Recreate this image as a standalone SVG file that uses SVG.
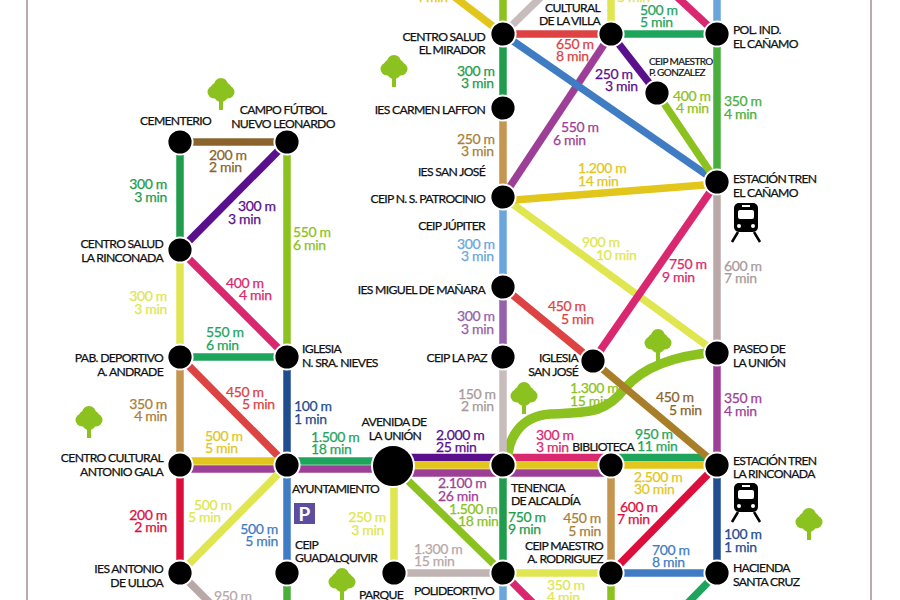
<svg xmlns="http://www.w3.org/2000/svg" width="900" height="600" viewBox="0 0 900 600">
<style>
text{font-family:Lato,"Liberation Sans",Arial,sans-serif}
.l{font-size:12.2px;letter-spacing:-.7px;fill:#111;stroke:#111;stroke-width:.25}
.s{font-size:10px;letter-spacing:-.6px;fill:#111;stroke:#111;stroke-width:.2}
.e{text-anchor:end}
.m{font-size:14px;letter-spacing:-.35px;stroke-width:.25}
.c line,.c path{stroke-width:7.5;fill:none}
.n{fill:#000;stroke:#fff;stroke-width:2}
.t{fill:#8cc220}
</style>
<defs>
<g id="tree"><rect x="-2" y="4" width="4" height="12" class="t"/><circle cx="0" cy="-9" r="7" class="t"/><circle cx="-7" cy="-2" r="6.5" class="t"/><circle cx="7" cy="-2" r="6.5" class="t"/><circle cx="0" cy="1" r="7" class="t"/><circle cx="-5" cy="-6" r="5" class="t"/><circle cx="5" cy="-6" r="5" class="t"/></g>
<g id="train"><rect x="-12" y="-18" width="24" height="29" rx="5" fill="#000"/><rect x="-8" y="-11" width="16" height="9" rx="2" fill="#fff"/><rect x="-4" y="-16" width="8" height="2" fill="#fff"/><circle cx="-7" cy="5" r="2" fill="#fff"/><circle cx="7" cy="5" r="2" fill="#fff"/><path d="M-8 11L-14 21M8 11L14 21" stroke="#000" stroke-width="2.5" fill="none"/></g>
</defs>
<rect x="26" y="0" width="2" height="600" fill="#bba9ac"/>
<rect x="870" y="0" width="2" height="600" fill="#bba9ac"/>
<g class="c">
<line x1="180" y1="142" x2="287" y2="142" stroke="#8a642c"/>
<line x1="180" y1="142" x2="180" y2="250" stroke="#1f9c4c"/>
<line x1="180" y1="250" x2="287" y2="142" stroke="#5a0f8c"/>
<line x1="287" y1="142" x2="287" y2="357" stroke="#8cc220"/>
<line x1="180" y1="250" x2="180" y2="357" stroke="#dfe650"/>
<line x1="180" y1="250" x2="287" y2="357" stroke="#d9286f"/>
<line x1="180" y1="357" x2="287" y2="357" stroke="#1fa45c"/>
<line x1="180" y1="357" x2="180" y2="465" stroke="#c4964f"/>
<line x1="180" y1="357" x2="287" y2="465" stroke="#dd4343"/>
<line x1="287" y1="357" x2="287" y2="465" stroke="#1f4d90"/>
<line x1="180" y1="461" x2="287" y2="461" stroke="#e2c61c"/>
<line x1="180" y1="469" x2="287" y2="469" stroke="#9e3f97"/>
<line x1="180" y1="465" x2="180" y2="573" stroke="#dc0f3c"/>
<line x1="180" y1="573" x2="287" y2="465" stroke="#dfe650"/>
<line x1="180" y1="573" x2="246" y2="639" stroke="#b8a8a8"/>
<line x1="287" y1="465" x2="287" y2="573" stroke="#3f7cc4"/>
<line x1="287" y1="573" x2="287" y2="610" stroke="#4aae3c"/>
<line x1="287" y1="461" x2="393" y2="461" stroke="#1fa45c"/>
<line x1="287" y1="469" x2="393" y2="469" stroke="#9e3f97"/>
<line x1="393" y1="457.5" x2="503" y2="457.5" stroke="#5a0f8c"/>
<line x1="393" y1="465" x2="503" y2="465" stroke="#e2c61c"/>
<line x1="393" y1="473" x2="503" y2="473" stroke="#9e3f97"/>
<line x1="503" y1="457.5" x2="611" y2="457.5" stroke="#d9286f"/>
<line x1="503" y1="465" x2="611" y2="465" stroke="#e2c61c"/>
<line x1="503" y1="473" x2="611" y2="473" stroke="#9e3f97"/>
<line x1="611" y1="457.5" x2="717" y2="457.5" stroke="#1fa45c"/>
<line x1="611" y1="465" x2="717" y2="465" stroke="#e2c61c"/>
<line x1="394" y1="466" x2="394" y2="573" stroke="#dfe650"/>
<line x1="393" y1="466" x2="503" y2="573" stroke="#8cc220"/>
<line x1="394" y1="573" x2="503" y2="573" stroke="#bfb3b3"/>
<line x1="503" y1="465" x2="503" y2="573" stroke="#1f9c4c"/>
<line x1="503" y1="573" x2="611" y2="573" stroke="#dfe650"/>
<line x1="503" y1="573" x2="541" y2="611" stroke="#d9286f"/>
<line x1="503" y1="573" x2="503" y2="610" stroke="#6aa6dc"/>
<line x1="611" y1="465" x2="611" y2="573" stroke="#c4964f"/>
<line x1="611" y1="573" x2="717" y2="465" stroke="#dc0f3c"/>
<line x1="611" y1="573" x2="717" y2="573" stroke="#3f7cc4"/>
<line x1="611" y1="573" x2="611" y2="610" stroke="#8cc220"/>
<line x1="717" y1="465" x2="717" y2="573" stroke="#1f4d90"/>
<line x1="717" y1="573" x2="680" y2="611" stroke="#1fa45c"/>
<line x1="717" y1="353" x2="717" y2="465" stroke="#9e3f97"/>
<path d="M508 465C506 440 520 416 550 414C585 412 605 415 625 388C645 365 680 355 717 352" stroke="#8cc220" style="stroke-width:9.5"/>
<line x1="593" y1="361" x2="717" y2="465" stroke="#a87f28"/>
<line x1="503" y1="357" x2="503" y2="465" stroke="#c8bcbc"/>
<line x1="503" y1="287" x2="503" y2="357" stroke="#9560ac"/>
<line x1="503" y1="287" x2="593" y2="361" stroke="#dd4343"/>
<line x1="503" y1="197" x2="717" y2="353" stroke="#dfe650"/>
<line x1="593" y1="361" x2="717" y2="182" stroke="#d9286f"/>
<line x1="717" y1="182" x2="717" y2="353" stroke="#b8a8a8"/>
<line x1="503" y1="197" x2="503" y2="287" stroke="#6aa6dc"/>
<line x1="503" y1="201" x2="717" y2="184" stroke="#e2c61c"/>
<line x1="503" y1="108" x2="503" y2="197" stroke="#c4964f"/>
<line x1="503" y1="197" x2="611" y2="34" stroke="#9e3f97"/>
<line x1="503" y1="34" x2="503" y2="108" stroke="#1f9c4c"/>
<line x1="503" y1="34" x2="611" y2="34" stroke="#dd4343"/>
<line x1="503" y1="34" x2="717" y2="182" stroke="#3f7cc4"/>
<line x1="611" y1="34" x2="717" y2="34" stroke="#1fa45c"/>
<line x1="611" y1="34" x2="657" y2="93" stroke="#5a0f8c"/>
<line x1="657" y1="93" x2="717" y2="182" stroke="#8cc220"/>
<line x1="717" y1="34" x2="717" y2="182" stroke="#4aae3c"/>
<line x1="503" y1="34" x2="503" y2="-5" stroke="#8cc220"/>
<line x1="503" y1="34" x2="452" y2="-5" stroke="#e2c61c"/>
<line x1="503" y1="34" x2="543" y2="-5" stroke="#c8bcbc"/>
<line x1="611" y1="34" x2="611" y2="-5" stroke="#dfe650"/>
<line x1="717" y1="34" x2="675" y2="-5" stroke="#d9286f"/>
<line x1="717" y1="34" x2="717" y2="-5" stroke="#6aa6dc"/>
</g>
<use href="#tree" x="221" y="94"/><use href="#tree" x="394" y="71"/><use href="#tree" x="89" y="422"/><use href="#tree" x="524" y="398"/><use href="#tree" x="658" y="345"/><use href="#tree" x="809" y="524"/><use href="#tree" x="342" y="584"/>
<use href="#train" x="746" y="221"/><use href="#train" x="746" y="501"/>
<rect x="294" y="503" width="21" height="21" fill="#5c4da0"/>
<text x="304.500" y="521" font-size="19" font-weight="bold" fill="#fff" text-anchor="middle">P</text>
<g id="n-cementerio"><circle class="n" cx="180" cy="142" r="12.600"/><text class="l e" x="211" y="125">CEMENTERIO</text></g>
<g id="n-campo"><circle class="n" cx="287" cy="142" r="12.600"/><text class="l" x="283" y="114" text-anchor="middle">CAMPO FÚTBOL</text><text class="l" x="283" y="128" text-anchor="middle">NUEVO LEONARDO</text></g>
<g id="n-csr"><circle class="n" cx="180" cy="250" r="12.600"/><text class="l e" x="163" y="248">CENTRO SALUD</text><text class="l e" x="163" y="262">LA RINCONADA</text></g>
<g id="n-pab"><circle class="n" cx="180" cy="357" r="12.600"/><text class="l e" x="163" y="362">PAB. DEPORTIVO</text><text class="l e" x="163" y="376">A. ANDRADE</text></g>
<g id="n-iglesia"><circle class="n" cx="287" cy="357" r="12.600"/><text class="l" x="302" y="353">IGLESIA</text><text class="l" x="302" y="367">N. SRA. NIEVES</text></g>
<g id="n-ccag"><circle class="n" cx="180" cy="465" r="12.600"/><text class="l e" x="163" y="462">CENTRO CULTURAL</text><text class="l e" x="163" y="476">ANTONIO GALA</text></g>
<g id="n-ayto"><circle class="n" cx="287" cy="465" r="12.600"/><text class="l" x="292" y="493">AYUNTAMIENTO</text></g>
<g id="n-ulloa"><circle class="n" cx="180" cy="573" r="12.600"/><text class="l e" x="163" y="573">IES ANTONIO</text><text class="l e" x="163" y="587">DE ULLOA</text></g>
<g id="n-guad"><circle class="n" cx="287" cy="573" r="12.600"/><text class="l" x="295" y="549">CEIP</text><text class="l" x="295" y="562">GUADALQUIVIR</text></g>
<g id="n-avda"><circle class="n" cx="393" cy="466" r="21"/><text class="l" x="394" y="426" text-anchor="middle">AVENIDA DE</text><text class="l" x="395" y="440" text-anchor="middle">LA UNIÓN</text></g>
<g id="n-parque"><circle class="n" cx="394" cy="573" r="12.600"/><text class="l" x="359" y="599">PARQUE</text></g>
<g id="n-tenencia"><circle class="n" cx="503" cy="465" r="12.600"/><text class="l" x="511" y="492">TENENCIA</text><text class="l" x="511" y="505">DE ALCALDÍA</text></g>
<g id="n-biblio"><circle class="n" cx="611" cy="465" r="12.600"/><text class="l e" x="634" y="451">BIBLIOTECA</text></g>
<g id="n-poli"><circle class="n" cx="503" cy="573" r="12.600"/><text class="l e" x="494" y="595">POLIDEORTIVO</text><text class="l e" x="494" y="608">CASTAÑITA</text></g>
<g id="n-rodriguez"><circle class="n" cx="611" cy="573" r="12.600"/><text class="l e" x="603" y="550">CEIP MAESTRO</text><text class="l e" x="603" y="563">A. RODRIGUEZ</text></g>
<g id="n-hacienda"><circle class="n" cx="717" cy="573" r="12.600"/><text class="l" x="733" y="572">HACIENDA</text><text class="l" x="733" y="586">SANTA CRUZ</text></g>
<g id="n-estrinc"><circle class="n" cx="717" cy="465" r="12.600"/><text class="l" x="733" y="465">ESTACIÓN TREN</text><text class="l" x="733" y="478">LA RINCONADA</text></g>
<g id="n-paseo"><circle class="n" cx="717" cy="353" r="12.600"/><text class="l" x="733" y="353">PASEO DE</text><text class="l" x="733" y="367">LA UNIÓN</text></g>
<g id="n-sanjose"><circle class="n" cx="593" cy="361" r="12.600"/><text class="l e" x="578" y="362">IGLESIA</text><text class="l e" x="578" y="376">SAN JOSÉ</text></g>
<g id="n-lapaz"><circle class="n" cx="503" cy="357" r="12.600"/><text class="l e" x="487" y="362">CEIP LA PAZ</text></g>
<g id="n-manara"><circle class="n" cx="503" cy="287" r="12.600"/><text class="l e" x="485" y="294">IES MIGUEL DE MAÑARA</text></g>
<g id="n-jupiter"><text class="l e" x="485" y="230">CEIP JÚPITER</text></g>
<g id="n-patrocinio"><circle class="n" cx="503" cy="197" r="12.600"/><text class="l e" x="485" y="203">CEIP N. S. PATROCINIO</text></g>
<g id="n-sanjoseies"><text class="l e" x="485" y="176">IES SAN JOSÉ</text></g>
<g id="n-laffon"><circle class="n" cx="503" cy="108" r="12.600"/><text class="l e" x="485" y="114">IES CARMEN LAFFON</text></g>
<g id="n-mirador"><circle class="n" cx="503" cy="34" r="12.600"/><text class="l e" x="485" y="41">CENTRO SALUD</text><text class="l e" x="485" y="54">EL MIRADOR</text></g>
<g id="n-villa"><circle class="n" cx="611" cy="34" r="12.600"/><text class="l e" x="600" y="12">CULTURAL</text><text class="l e" x="600" y="25">DE LA VILLA</text></g>
<g id="n-canamo"><circle class="n" cx="717" cy="34" r="12.600"/><text class="l" x="733" y="34">POL. IND.</text><text class="l" x="733" y="48">EL CAÑAMO</text></g>
<g id="n-gonzalez"><circle class="n" cx="657" cy="93" r="12.600"/><text class="s" x="649" y="65">CEIP MAESTRO</text><text class="s" x="649" y="76">P. GONZALEZ</text></g>
<g id="n-esttren"><circle class="n" cx="717" cy="182" r="12.600"/><text class="l" x="733" y="183">ESTACIÓN TREN</text><text class="l" x="733" y="197">EL CAÑAMO</text></g>
<g class="labels">
<text class="m" x="415" y="2" fill="#e2c61c" stroke="#e2c61c">4 min</text>
<text class="m" x="617" y="2" fill="#dfe650" stroke="#dfe650">5 min</text>
<g fill="#8a642c" stroke="#8a642c"><text class="m" x="209" y="160">200 m</text><text class="m" x="209" y="172">2 min</text></g>
<g fill="#1f9c4c" stroke="#1f9c4c"><text class="m e" x="167" y="189">300 m</text><text class="m e" x="167" y="202">3 min</text></g>
<g fill="#5a0f8c" stroke="#5a0f8c"><text class="m" x="238" y="211">300 m</text><text class="m" x="228" y="224">3 min</text></g>
<g fill="#8cc220" stroke="#8cc220"><text class="m" x="293" y="237">550 m</text><text class="m" x="293" y="250">6 min</text></g>
<g fill="#dfe650" stroke="#dfe650"><text class="m e" x="167" y="301">300 m</text><text class="m e" x="167" y="314">3 min</text></g>
<g fill="#d9286f" stroke="#d9286f"><text class="m" x="226" y="288">400 m</text><text class="m" x="239" y="300">4 min</text></g>
<g fill="#1fa45c" stroke="#1fa45c"><text class="m" x="206" y="337">550 m</text><text class="m" x="206" y="350">6 min</text></g>
<g fill="#a87f3c" stroke="#a87f3c"><text class="m e" x="167" y="409">350 m</text><text class="m e" x="167" y="421">4 min</text></g>
<g fill="#dd4343" stroke="#dd4343"><text class="m" x="226" y="397">450 m</text><text class="m" x="242" y="409">5 min</text></g>
<g fill="#1f4d90" stroke="#1f4d90"><text class="m" x="294" y="411">100 m</text><text class="m" x="294" y="424">1 min</text></g>
<g fill="#e2c61c" stroke="#e2c61c"><text class="m" x="205" y="441">500 m</text><text class="m" x="205" y="453">5 min</text></g>
<g fill="#1fa45c" stroke="#1fa45c"><text class="m" x="311" y="442">1.500 m</text><text class="m" x="311" y="454">18 min</text></g>
<g fill="#dc0f3c" stroke="#dc0f3c"><text class="m e" x="167" y="520">200 m</text><text class="m e" x="167" y="532">2 min</text></g>
<g fill="#dfe650" stroke="#dfe650"><text class="m" x="194" y="510">500 m</text><text class="m" x="188" y="522">5 min</text></g>
<g fill="#3f7cc4" stroke="#3f7cc4"><text class="m e" x="278" y="534">500 m</text><text class="m e" x="278" y="546">5 min</text></g>
<g fill="#b8a8a8" stroke="#b8a8a8"><text class="m" x="214" y="601">950 m</text></g>
<g fill="#dfe650" stroke="#dfe650"><text class="m e" x="386" y="522">250 m</text><text class="m e" x="384" y="535">3 min</text></g>
<g fill="#5a0f8c" stroke="#5a0f8c"><text class="m" x="436" y="440">2.000 m</text><text class="m" x="436" y="452">25 min</text></g>
<g fill="#9e3f97" stroke="#9e3f97"><text class="m" x="438" y="488">2.100 m</text><text class="m" x="438" y="501">26 min</text></g>
<g fill="#8cc220" stroke="#8cc220"><text class="m" x="449" y="514">1.500 m</text><text class="m" x="458" y="526">18 min</text></g>
<g fill="#b8a8a8" stroke="#b8a8a8"><text class="m" x="414" y="554">1.300 m</text><text class="m" x="414" y="566">15 min</text></g>
<g fill="#1f9c4c" stroke="#1f9c4c"><text class="m" x="508" y="522">750 m</text><text class="m" x="508" y="534">9 min</text></g>
<g fill="#a87f3c" stroke="#a87f3c"><text class="m e" x="601" y="523">450 m</text><text class="m e" x="601" y="536">5 min</text></g>
<g fill="#dc0f3c" stroke="#dc0f3c"><text class="m" x="620" y="512">600 m</text><text class="m" x="617" y="524">7 min</text></g>
<g fill="#dfe650" stroke="#dfe650"><text class="m" x="547" y="590">350 m</text><text class="m" x="547" y="602">4 min</text></g>
<g fill="#d9286f" stroke="#d9286f"><text class="m" x="536" y="440">300 m</text><text class="m" x="536" y="452">3 min</text></g>
<g fill="#1fa45c" stroke="#1fa45c"><text class="m" x="635" y="439">950 m</text><text class="m" x="637" y="451">11 min</text></g>
<g fill="#e2c61c" stroke="#e2c61c"><text class="m" x="634" y="482">2.500 m</text><text class="m" x="634" y="494">30 min</text></g>
<g fill="#3f7cc4" stroke="#3f7cc4"><text class="m" x="652" y="555">700 m</text><text class="m" x="652" y="567">8 min</text></g>
<g fill="#1f4d90" stroke="#1f4d90"><text class="m" x="724" y="539">100 m</text><text class="m" x="724" y="552">1 min</text></g>
<g fill="#9e3f97" stroke="#9e3f97"><text class="m" x="724" y="403">350 m</text><text class="m" x="724" y="416">4 min</text></g>
<g fill="#8a642c" stroke="#8a642c"><text class="m" x="656" y="402">450 m</text><text class="m" x="669" y="415">5 min</text></g>
<g fill="#8cc220" stroke="#8cc220"><text class="m" x="570" y="393">1.300 m</text><text class="m" x="570" y="406">15 min</text></g>
<g fill="#a89a9a" stroke="#a89a9a"><text class="m" x="458" y="399">150 m</text><text class="m" x="461" y="411">2 min</text></g>
<g fill="#9560ac" stroke="#9560ac"><text class="m" x="457" y="321">300 m</text><text class="m" x="461" y="334">3 min</text></g>
<g fill="#dd4343" stroke="#dd4343"><text class="m" x="548" y="311">450 m</text><text class="m" x="561" y="324">5 min</text></g>
<g fill="#6aa6dc" stroke="#6aa6dc"><text class="m" x="457" y="249">300 m</text><text class="m" x="461" y="261">3 min</text></g>
<g fill="#dfe650" stroke="#dfe650"><text class="m" x="582" y="247">900 m</text><text class="m" x="596" y="260">10 min</text></g>
<g fill="#d9286f" stroke="#d9286f"><text class="m" x="669" y="269">750 m</text><text class="m" x="662" y="282">9 min</text></g>
<g fill="#a89a9a" stroke="#a89a9a"><text class="m" x="724" y="271">600 m</text><text class="m" x="724" y="283">7 min</text></g>
<g fill="#e2c61c" stroke="#e2c61c"><text class="m" x="578" y="173">1.200 m</text><text class="m" x="578" y="186">14 min</text></g>
<g fill="#a87f3c" stroke="#a87f3c"><text class="m" x="457" y="144">250 m</text><text class="m" x="461" y="156">3 min</text></g>
<g fill="#9e3f97" stroke="#9e3f97"><text class="m" x="561" y="132">550 m</text><text class="m" x="553" y="145">6 min</text></g>
<g fill="#1f9c4c" stroke="#1f9c4c"><text class="m" x="457" y="76">300 m</text><text class="m" x="461" y="88">3 min</text></g>
<g fill="#dd4343" stroke="#dd4343"><text class="m" x="556" y="49">650 m</text><text class="m" x="556" y="61">8 min</text></g>
<g fill="#5a0f8c" stroke="#5a0f8c"><text class="m" x="595" y="79">250 m</text><text class="m" x="605" y="91">3 min</text></g>
<g fill="#8cc220" stroke="#8cc220"><text class="m" x="673" y="101">400 m</text><text class="m" x="676" y="113">4 min</text></g>
<g fill="#4aae3c" stroke="#4aae3c"><text class="m" x="724" y="106">350 m</text><text class="m" x="724" y="119">4 min</text></g>
<g fill="#1fa45c" stroke="#1fa45c"><text class="m" x="640" y="15">500 m</text><text class="m" x="640" y="27">5 min</text></g>
</g>
</svg>
